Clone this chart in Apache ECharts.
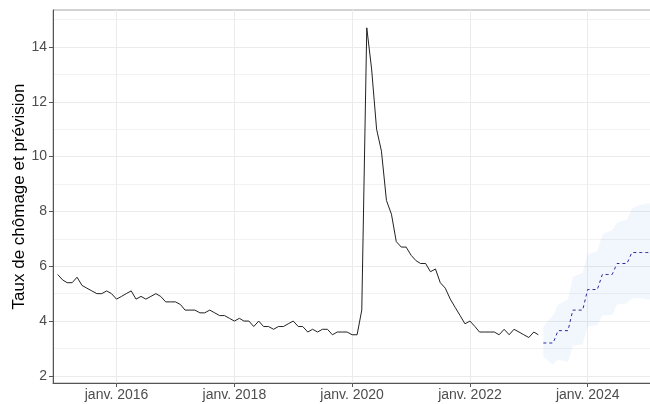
<!DOCTYPE html>
<html>
<head>
<meta charset="utf-8">
<script src="https://cdn.jsdelivr.net/npm/echarts@6/dist/echarts.min.js"></script>
<style>
  html, body { margin: 0; padding: 0; background: #fff; }
  #chart { width: 650px; height: 404px; }
</style>
</head>
<body>
<div id="chart"></div>
<script>
// taux de chomage mensuel, janv. 2015 -> mars 2023
var debutObs = [2015, 0];
var chomage = [
  5.7, 5.5, 5.4, 5.4, 5.6, 5.3, 5.2, 5.1, 5.0, 5.0, 5.1, 5.0,
  4.8, 4.9, 5.0, 5.1, 4.8, 4.9, 4.8, 4.9, 5.0, 4.9, 4.7, 4.7,
  4.7, 4.6, 4.4, 4.4, 4.4, 4.3, 4.3, 4.4, 4.3, 4.2, 4.2, 4.1,
  4.0, 4.1, 4.0, 4.0, 3.8, 4.0, 3.8, 3.8, 3.7, 3.8, 3.8, 3.9,
  4.0, 3.8, 3.8, 3.6, 3.7, 3.6, 3.7, 3.7, 3.5, 3.6, 3.6, 3.6,
  3.5, 3.5, 4.4, 14.7, 13.2, 11.0, 10.2, 8.4, 7.9, 6.9, 6.7, 6.7,
  6.4, 6.2, 6.1, 6.1, 5.8, 5.9, 5.4, 5.2, 4.8, 4.5, 4.2, 3.9,
  4.0, 3.8, 3.6, 3.6, 3.6, 3.6, 3.5, 3.7, 3.5, 3.7, 3.6, 3.5,
  3.4, 3.6, 3.5
];

// prevision + intervalle, avr. 2023 -> fev. 2025
var debutPrev = [2023, 3];
var prevision = [
  3.2, 3.2, 3.2, 3.65, 3.65, 3.65, 4.4, 4.4, 4.4,
  5.15, 5.15, 5.15, 5.7, 5.7, 5.7, 6.1, 6.1, 6.1,
  6.5, 6.5, 6.5, 6.5, 6.5
];
var prevBas = [
  2.7, 2.55, 2.4, 2.6, 2.55, 2.5, 3.1, 3.12, 3.15,
  3.8, 3.83, 3.86, 4.2, 4.22, 4.22, 4.6, 4.62, 4.65,
  4.82, 4.83, 4.83, 4.8, 4.77
];
var prevHaut = [
  3.8, 4.0, 4.2, 4.6, 4.7, 4.8, 5.6, 5.7, 5.75,
  6.45, 6.5, 6.55, 7.15, 7.25, 7.3, 7.6, 7.65, 7.7,
  8.1, 8.2, 8.25, 8.28, 8.3
];

var anneesTicks = [2016, 2018, 2020, 2022, 2024];
var yTicks = [2, 4, 6, 8, 10, 12, 14];
var yMinor = [3, 5, 7, 9, 11, 13, 15];

function mois(debut, i) {
  return Date.UTC(debut[0], debut[1] + i, 1);
}

var serieObs = chomage.map(function (v, i) { return [mois(debutObs, i), v]; });
var seriePrev = prevision.map(function (v, i) { return [mois(debutPrev, i), v]; });
var serieBande = prevBas.map(function (v, i) { return [mois(debutPrev, i), v, prevHaut[i]]; });
var xTicks = anneesTicks.map(function (a) { return Date.UTC(a, 0, 1); });

var chart = echarts.init(document.getElementById('chart'), null, { renderer: 'canvas' });

var labelStyle = {
  color: '#4d4d4d',
  fontSize: 14,
  fontFamily: 'Liberation Sans, Arial, sans-serif'
};

// ruban de l'intervalle : un seul polygone (haut aller, bas retour)
function dessineBande(params, api) {
  if (params.dataIndex !== 0) return null;
  var pts = [];
  for (var i = 0; i < serieBande.length; i++) {
    pts.push(api.coord([serieBande[i][0], serieBande[i][2]]));
  }
  for (var j = serieBande.length - 1; j >= 0; j--) {
    pts.push(api.coord([serieBande[j][0], serieBande[j][1]]));
  }
  return {
    type: 'polygon',
    shape: { points: pts },
    style: { fill: 'rgba(110, 165, 240, 0.09)', stroke: null }
  };
}

var option = {
  backgroundColor: '#ffffff',
  animation: false,
  grid: {
    left: 53,
    right: -2,
    top: 10,
    bottom: 21,
    show: true,
    borderColor: '#a6a6a6',
    borderWidth: 1,
    outerBoundsMode: 'none'
  },
  xAxis: {
    type: 'value',
    min: Date.UTC(2014, 11, 3),
    max: Date.UTC(2025, 1, 3),
    axisLine: { show: true, onZero: false, lineStyle: { color: '#555', width: 1 } },
    axisTick: { show: true, length: 4, customValues: xTicks, lineStyle: { color: '#555' } },
    axisLabel: Object.assign({
      customValues: xTicks,
      margin: 5,
      formatter: function (v) { return 'janv. ' + new Date(v).getUTCFullYear(); }
    }, labelStyle),
    splitLine: { show: true, lineStyle: { color: '#ebebeb', width: 1 } }
  },
  yAxis: [{
    type: 'value',
    min: 1.74,
    max: 15.35,
    name: 'Taux de chômage et prévision',
    nameLocation: 'middle',
    nameRotate: 90,
    nameGap: 25,
    nameMoveOverlap: false,
    nameTextStyle: { color: '#000', fontSize: 17, fontFamily: 'Liberation Sans, Arial, sans-serif' },
    axisLine: { show: true, onZero: false, lineStyle: { color: '#555', width: 1 } },
    axisTick: { show: true, length: 4, customValues: yTicks, lineStyle: { color: '#555' } },
    axisLabel: Object.assign({ customValues: yTicks, margin: 6 }, labelStyle),
    splitLine: { show: true, lineStyle: { color: '#ebebeb', width: 1 } }
  }, {
    type: 'value',
    min: 1.74,
    max: 15.35,
    position: 'left',
    axisLine: { show: false },
    axisTick: { show: false, customValues: yMinor },
    axisLabel: { show: false, customValues: yMinor },
    splitLine: { show: true, lineStyle: { color: '#f2f2f2', width: 1 } }
  }],
  series: [
    {
      name: 'intervalle',
      type: 'custom',
      data: serieBande,
      encode: { x: 0, y: [1, 2] },
      renderItem: dessineBande,
      clip: true,
      silent: true,
      z: 1
    },
    {
      name: 'chomage',
      type: 'line',
      data: serieObs,
      symbol: 'none',
      lineStyle: { color: '#222', width: 1 },
      z: 3
    },
    {
      name: 'prevision',
      type: 'line',
      data: seriePrev,
      symbol: 'none',
      lineStyle: { color: '#2a2a9e', width: 1, type: [3, 3] },
      z: 3
    }
  ]
};

chart.setOption(option);
</script>
</body>
</html>
